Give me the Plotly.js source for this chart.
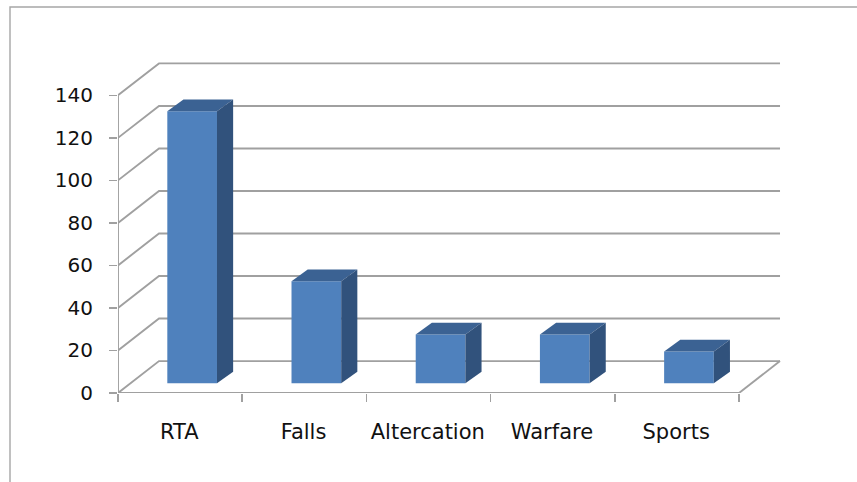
<!DOCTYPE html>
<html>
<head>
<meta charset="utf-8">
<script src="https://cdn.plot.ly/plotly-3.0.1.min.js"></script>
<style>html,body{margin:0;padding:0;background:#fff}#chart{width:857px;height:482px}</style>
</head>
<body>
<div id="chart"></div>
<script>
const categories = ["RTA", "Falls", "Altercation", "Warfare", "Sports"];
const values = [128, 48, 23, 23, 15];
const yTicks = [0, 20, 40, 60, 80, 100, 120, 140];
const catEdges = [-0.5, 0.5, 1.5, 2.5, 3.5, 4.5];

// Oblique-projection depth expressed in data units
const wallDX = 0.33, wallDY = 15;      // back wall
const barShiftX = 0.097, barShiftY = 4.55; // plane of the bar front faces
const barDX = 0.13, barDY = 5.5;       // bar depth
const barW = 0.4;
const labelShift = -0.006;

const xMin = catEdges[0], xMax = catEdges[catEdges.length - 1];
const xRange = [-0.5, 4.846], yRange = [0, 156.6];

// Wall grid + floor
const gx = [], gy = [];
yTicks.forEach(v => {
  gx.push(xMin, xMin + wallDX, xMax + wallDX, null);
  gy.push(v, v + wallDY, v + wallDY, null);
});
gx.push(xMax, xMax + wallDX, null, xMin, xMax, null, xMin, xMin);
gy.push(0, wallDY, null, 0, 0, null, 0, 140);

const lineGrey = "#a0a0a0";
const gridTrace = {
  type: "scatter", mode: "lines", x: gx, y: gy, xaxis: "x", yaxis: "y",
  line: {color: lineGrey, width: 1.9}, cliponaxis: false, hoverinfo: "skip", connectgaps: false
};

const barTrace = {
  type: "bar", x: categories.map((c, i) => i + barShiftX), y: values,
  base: values.map(() => barShiftY), width: barW,
  xaxis: "x2", yaxis: "y2",
  marker: {color: "#4f81bd", line: {width: 0}}, hoverinfo: "skip"
};

function face(xs, ys, color) {
  return {type: "scatter", mode: "lines", x: xs, y: ys, fill: "toself", fillcolor: color,
    line: {width: 0, color: color}, xaxis: "x2", yaxis: "y2", hoverinfo: "skip"};
}
const faces = [];
values.forEach((v, i) => {
  const l = i + barShiftX - barW / 2, r = i + barShiftX + barW / 2;
  const b = barShiftY, t = barShiftY + v;
  faces.push(face([l, r, r + barDX, l + barDX, l], [t, t, t + barDY, t + barDY, t], "#3b6293"));
  faces.push(face([r, r + barDX, r + barDX, r, r], [b, b + barDY, t + barDY, t, b], "#31527c"));
});

const yFont = {family: "DejaVu Sans, sans-serif", size: 20, color: "#111"};
const xFont = {family: "DejaVu Sans, sans-serif", size: 21, color: "#111"};
const W = 857, H = 482, mL = 118, mR = 75, mT = 60, mB = 89;
const pw = W - mL - mR, ph = H - mT - mB;
const px = p => (p - mL) / pw, py = p => (H - mB - p) / ph;

const layout = {
  width: W, height: H, showlegend: false, hovermode: false,
  paper_bgcolor: "#fff", plot_bgcolor: "rgba(0,0,0,0)",
  margin: {l: mL, r: mR, t: mT, b: mB, pad: 0},
  barmode: "overlay",
  xaxis: {range: xRange, tickmode: "array", tickvals: catEdges, ticktext: catEdges.map(() => ""),
    ticks: "outside", ticklen: 8, tickwidth: 1.6, tickcolor: lineGrey,
    showgrid: false, zeroline: false, showline: false, fixedrange: true},
  yaxis: {range: yRange, tickmode: "array", tickvals: yTicks, ticktext: yTicks.map(String),
    ticks: "outside", ticklen: 8, tickwidth: 1.6, tickcolor: lineGrey, tickfont: yFont,
    ticklabelstandoff: 12,
    showgrid: false, zeroline: false, showline: false, fixedrange: true},
  xaxis2: {overlaying: "x", anchor: "y2", range: xRange, tickmode: "array",
    tickvals: categories.map((c, i) => i + labelShift), ticktext: categories,
    ticks: "outside", ticklen: 20, tickcolor: "rgba(0,0,0,0)", tickfont: xFont,
    showgrid: false, zeroline: false, showline: false, fixedrange: true},
  yaxis2: {overlaying: "y", anchor: "x2", range: yRange, showticklabels: false, ticks: "",
    showgrid: false, zeroline: false, showline: false, fixedrange: true},
  shapes: [{
    type: "path", xref: "paper", yref: "paper", layer: "below",
    path: `M ${px(10)} ${py(482)} L ${px(10)} ${py(7)} L ${px(857)} ${py(7)}`,
    line: {color: "#a6a6a6", width: 1.4}
  }]
};

Plotly.newPlot("chart", [gridTrace, barTrace].concat(faces), layout, {displayModeBar: false, staticPlot: true});
</script>
</body>
</html>
